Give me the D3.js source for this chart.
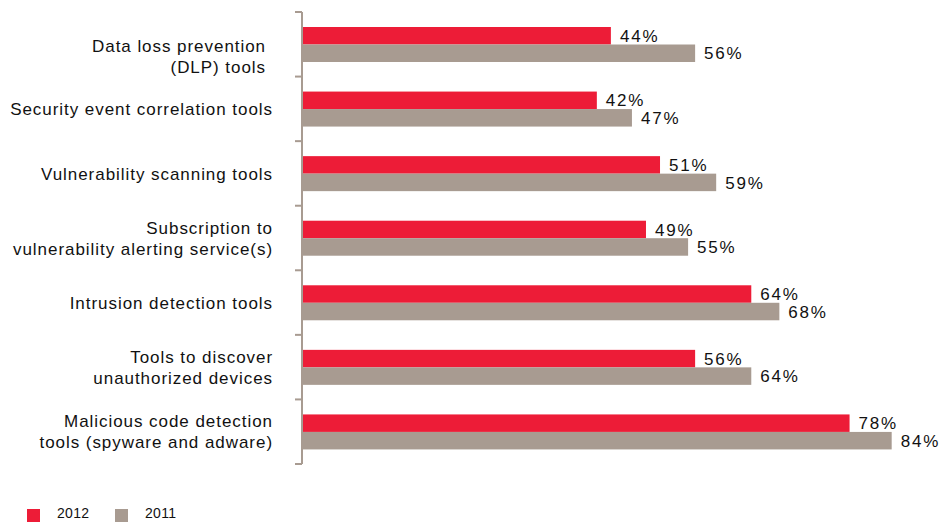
<!DOCTYPE html>
<html>
<head>
<meta charset="utf-8">
<script src="https://cdn.jsdelivr.net/npm/d3@7"></script>
<style>
  html, body { margin: 0; padding: 0; background: #fff; }
  svg { display: block; font-family: "Liberation Sans", Arial, Helvetica, sans-serif; }
</style>
</head>
<body>
<svg id="chart" width="950" height="522"></svg>
<script>
// Categories (each label may span two lines)
const categories = [
  ["Data loss prevention ", "(DLP) tools"],
  ["Security event correlation tools"],
  ["Vulnerability scanning tools"],
  ["Subscription to", "vulnerability alerting service(s)"],
  ["Intrusion detection tools"],
  ["Tools to discover", "unauthorized devices"],
  ["Malicious code detection ", "tools (spyware and adware)"]
];
const seriesNames = ["2012", "2011"];
const values2012 = [44, 42, 51, 49, 64, 56, 78];
const values2011 = [56, 47, 59, 55, 68, 64, 84];

const colors = { "2012": "#ED1C37", "2011": "#A89B91" };
const axisColor = "#A89B91";

const svg = d3.select("#chart");

const keys = categories.map(c => c.join(" "));
const rows = keys.map((k, i) => ({ key: k, lines: categories[i], "2012": values2012[i], "2011": values2011[i] }));

const x = d3.scaleLinear().domain([0, 100]).range([302, 1004]);
const y = d3.scaleBand().domain(keys).range([12, 464]);
const yInner = d3.scaleBand().domain(seriesNames).range([15, 50]);

// Bars
const groups = svg.append("g").selectAll("g")
  .data(rows).join("g")
  .attr("transform", d => `translate(0,${y(d.key)})`);

groups.selectAll("rect")
  .data(d => seriesNames.map(s => ({ s, v: d[s] })))
  .join("rect")
  .attr("x", x(0))
  .attr("y", d => yInner(d.s))
  .attr("width", d => x(d.v) - x(0))
  .attr("height", yInner.bandwidth())
  .attr("fill", d => colors[d.s]);

// Value labels
groups.selectAll("text.val")
  .data(d => seriesNames.map(s => ({ s, v: d[s] })))
  .join("text")
  .attr("class", "val")
  .attr("x", d => x(d.v) + 9)
  .attr("y", d => yInner(d.s) + yInner.bandwidth() / 2)
  .attr("dy", "0.36em")
  .attr("font-size", 17)
  .attr("letter-spacing", "1.8px")
  .attr("fill", "#111")
  .text(d => d.v + "%");

// Axis line with ticks at band boundaries
const axisG = svg.append("g");
axisG.append("line")
  .attr("x1", x(0)).attr("x2", x(0))
  .attr("y1", y.range()[0]).attr("y2", y.range()[1])
  .attr("stroke", axisColor).attr("stroke-width", 2);
const boundaries = keys.map(k => y(k)).concat([y.range()[1]]);
axisG.selectAll("line.tick")
  .data(boundaries).join("line")
  .attr("class", "tick")
  .attr("x1", x(0) - 7).attr("x2", x(0))
  .attr("y1", d => d).attr("y2", d => d)
  .attr("stroke", axisColor).attr("stroke-width", 2);

// Category labels; the first block sits a little lower and further left
const labelShift = (d, i) => i === 0 ? { dx: -7, dy: 12 } : { dx: 0, dy: 0 };
const labels = svg.append("g").selectAll("text")
  .data(rows).join("text")
  .attr("text-anchor", "end")
  .attr("font-size", 17)
  .attr("letter-spacing", "0.95px")
  .attr("fill", "#111")
  .attr("transform", (d, i) => {
    const s = labelShift(d, i);
    return `translate(${273 + s.dx},${y(d.key) + y.bandwidth() / 2 + s.dy})`;
  });
labels.selectAll("tspan")
  .data(d => d.lines.map((t, i) => ({ t, i, n: d.lines.length })))
  .join("tspan")
  .attr("x", 0)
  .attr("y", d => (d.i - (d.n - 1) / 2) * 21)
  .attr("dy", "0.36em")
  .text(d => d.t.trim());

// Legend
const legend = svg.append("g").attr("transform", "translate(27,509)");
const legendItems = legend.selectAll("g")
  .data(seriesNames).join("g")
  .attr("transform", (d, i) => `translate(${i * 88},0)`);
legendItems.append("rect")
  .attr("width", 13).attr("height", 13)
  .attr("fill", d => colors[d]);
legendItems.append("text")
  .attr("x", 30).attr("y", 8.5)
  .attr("font-size", 14)
  .attr("letter-spacing", "0.3px")
  .attr("fill", "#111")
  .text(d => d);
</script>
</body>
</html>
